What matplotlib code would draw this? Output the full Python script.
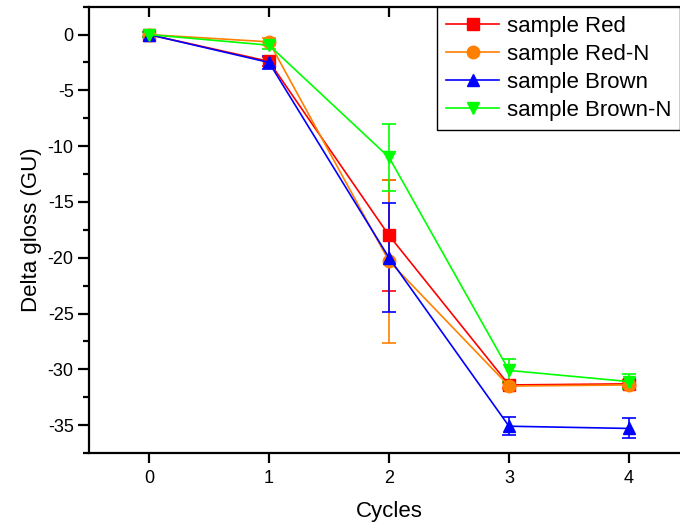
import matplotlib
matplotlib.use("Agg")
import matplotlib.pyplot as plt
from matplotlib.ticker import MultipleLocator
from matplotlib.lines import Line2D

plt.rcParams['font.family'] = ['Liberation Sans', 'DejaVu Sans']
plt.rcParams['axes.unicode_minus'] = False

cycles = [0, 1, 2, 3, 4]
labels = ["sample Red", "sample Red-N", "sample Brown", "sample Brown-N"]
red = [0.0, -2.4, -18.0, -31.4, -31.3]
red_err = [0.2, 0.4, 5.0, 0.3, 0.3]
red_n = [0.0, -0.65, -20.3, -31.5, -31.4]
red_n_err = [0.2, 0.3, 7.3, 0.3, 0.3]
brown = [0.0, -2.5, -20.0, -35.1, -35.3]
brown_err = [0.2, 0.6, 4.9, 0.8, 0.9]
brown_n = [0.0, -0.95, -11.0, -30.1, -31.1]
brown_n_err = [0.2, 0.3, 3.0, 1.0, 0.7]

colors = ["#FF0000", "#FF8000", "#0000FF", "#00FF00"]
markers = ["s", "o", "^", "v"]
series = [red, red_n, brown, brown_n]
errs = [red_err, red_n_err, brown_err, brown_n_err]

fig = plt.figure(figsize=(6.8, 5.27), dpi=100)
ax = fig.add_axes([89/680, 1-453/527, 600/680, (453-6.7)/527])

handles = []
for y, e, c, m, lab in zip(series, errs, colors, markers, labels):
    ax.errorbar(cycles, y, yerr=e, color=c, marker=m, markersize=9,
                linewidth=1.2, elinewidth=1.2, capsize=5, capthick=1.2,
                markeredgecolor=c)
    handles.append(Line2D([], [], color=c, marker=m, markersize=9,
                          linewidth=1.2, markeredgecolor=c, label=lab))

ax.set_xlim(-0.5, 4.5)
ax.set_ylim(-37.5, 2.5)
ax.xaxis.set_major_locator(MultipleLocator(1))
ax.yaxis.set_major_locator(MultipleLocator(5))
ax.yaxis.set_minor_locator(MultipleLocator(2.5))

for s in ax.spines.values():
    s.set_linewidth(1.6)

ax.tick_params(axis='x', which='major', direction='out', length=7, width=1.6,
               labelsize=13, pad=5, top=False)
ax.tick_params(axis='y', which='major', direction='out', length=8, width=1.6,
               labelsize=13, pad=3)
ax.tick_params(axis='y', which='minor', direction='out', length=4, width=1.6)

# top ticks inward
sec = ax.secondary_xaxis('top')
sec.set_xticks(cycles)
sec.tick_params(direction='in', length=7, width=1.6, labeltop=False)
sec.spines['top'].set_visible(False)

ax.set_xlabel("Cycles", fontsize=16, labelpad=10)
ax.set_ylabel("Delta gloss (GU)", fontsize=16, labelpad=4)

leg = ax.legend(handles=handles, loc='upper left',
                bbox_to_anchor=(437/680, 1-6.7/527),
                bbox_transform=fig.transFigure, fontsize=16, frameon=True,
                fancybox=False, framealpha=1, edgecolor='black',
                handlelength=2.4, handletextpad=0.35, labelspacing=0.32,
                borderpad=0.4, borderaxespad=0)
leg.get_frame().set_linewidth(1.0)

fig.savefig("out.png", dpi=100)
